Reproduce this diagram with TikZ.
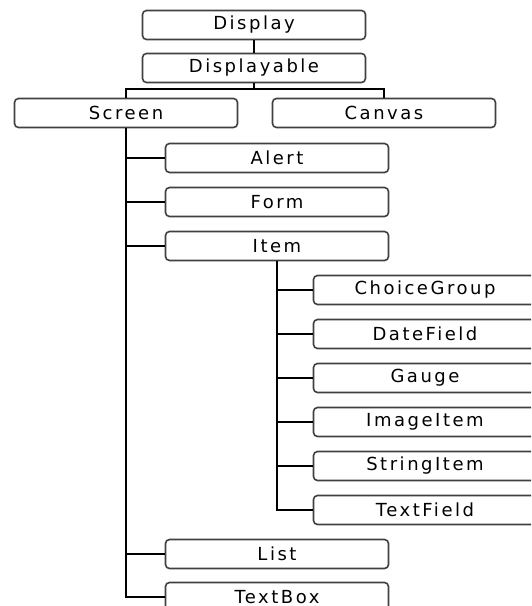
\documentclass[tikz,border=0pt]{standalone}
\usepackage{fontspec}
\newfontfamily\boxfont[LetterSpace=14]{DejaVu Sans}
\usetikzlibrary{calc}
\begin{document}
\begin{tikzpicture}[x=1pt,y=-1pt,
  cls/.style={draw=black!75, line width=1.6pt, rounded corners=4pt, fill=white,
    minimum width=223pt, minimum height=29pt, inner sep=0pt,
    font=\boxfont\fontsize{18pt}{20pt}\selectfont, text=black},
  link/.style={draw=black, line width=2pt}]
\useasboundingbox (0,0) rectangle (531,606);
\clip (0,0) rectangle (531,606);
\node[cls] (Display) at (254,25) {Display};
\node[cls] (Displayable) at (254,68) {Displayable};
\node[cls] (Screen) at (126,113) {Screen};
\node[cls] (Canvas) at (384,113) {Canvas};
\node[cls] (Alert) at (277,158) {Alert};
\node[cls] (Form) at (277,202) {Form};
\node[cls] (Item) at (277,246) {Item};
\node[cls] (ChoiceGroup) at (425,290) {ChoiceGroup};
\node[cls] (DateField) at (425,334) {DateField};
\node[cls] (Gauge) at (425,378) {Gauge};
\node[cls] (ImageItem) at (425,422) {ImageItem};
\node[cls] (StringItem) at (425,466) {StringItem};
\node[cls] (TextField) at (425,510) {TextField};
\node[cls] (List) at (277,554) {List};
\node[cls] (TextBox) at (277,597) {TextBox};
\coordinate (br) at ($(Displayable.south)+(0,6)$);
\draw[link] (Display.south) -- (Displayable.north);
\draw[link] (Displayable.south) -- (br);
\draw[link] (Screen.north) |- (br) -| (Canvas.north);
\draw[link] (Screen.south) |- (TextBox.west);
\foreach \n in {Alert,Form,Item,List}
  \draw[link] (Screen.south |- \n.west) -- (\n.west);
\draw[link] (Item.south) |- (TextField.west);
\foreach \n in {ChoiceGroup,DateField,Gauge,ImageItem,StringItem}
  \draw[link] (Item.south |- \n.west) -- (\n.west);
\end{tikzpicture}
\end{document}
